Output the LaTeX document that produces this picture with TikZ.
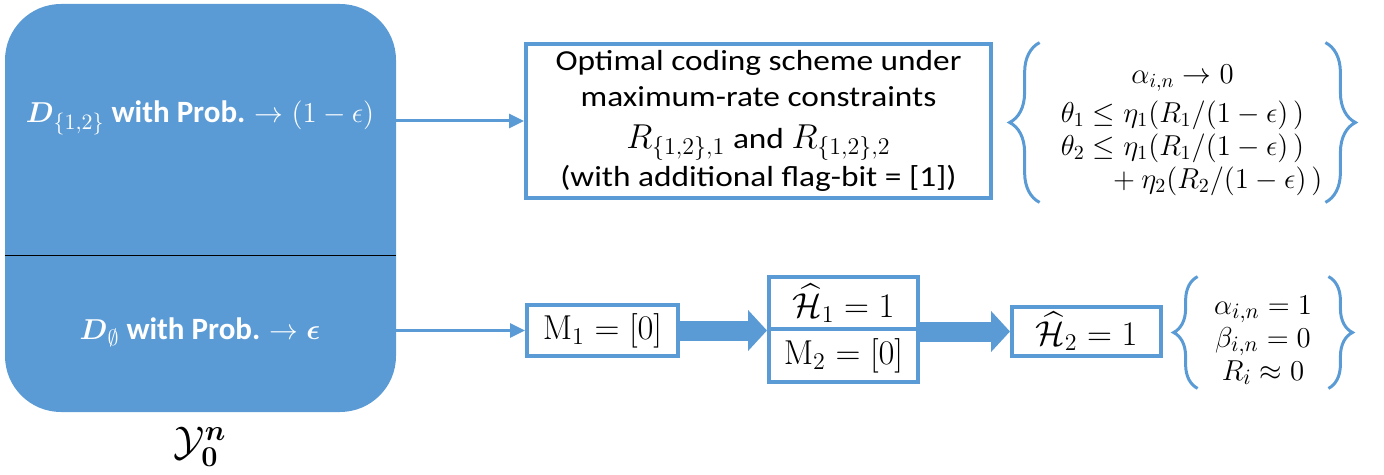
\documentclass[tikz,border=0pt]{standalone}
\usepackage{amsmath,amssymb}
\usepackage[no-math]{fontspec}
\setmainfont{Carlito}
\newfontfamily\widefont{Carlito}[FakeStretch=1.15]
\newcommand{\rmath}[1]{{\fontsize{16.5}{18}\selectfont$#1$}}
\usetikzlibrary{arrows.meta,decorations.pathreplacing}
\definecolor{boxblue}{HTML}{5B9BD5}

\begin{document}
\begin{tikzpicture}[x=0.5pt, y=-0.5pt,
    box/.style={draw=boxblue, line width=2pt, fill=white, inner sep=0pt},
    srctext/.style={text=white, font=\fontsize{15.5}{18}\selectfont\bfseries},
    cond/.style={inner sep=0pt, align=center},
    thinarrow/.style={draw=boxblue, line width=1.5pt, -{Triangle[length=7.5pt, width=7pt]}},
    fatarrow/.style={draw=boxblue, line width=10pt, -{Triangle[length=9.5pt, width=20pt]}},
    curly/.style={draw=boxblue, line width=1.5pt, decorate, decoration={brace, amplitude=#1}}]
    \useasboundingbox (0,0) rectangle (1384,475);
    % source block, split in two outcomes
    \node[fill=boxblue, rounded corners=28pt, minimum width=195.5pt, minimum height=204pt, inner sep=0pt] (src) at (200.5,208) {};
    \coordinate (cut) at (0,256);
    \draw[line width=0.5pt] (src.west |- cut) -- (src.east |- cut);
    \node[srctext] (d12) at (200,118) {$\boldsymbol{D}_{\{1,2\}}$ with Prob. $\rightarrow (1-\epsilon)$};
    \node[srctext] (d0) at (200,332) {$\boldsymbol{D}_{\emptyset}$ with Prob. $\rightarrow \boldsymbol{\epsilon}$};
    \node[font=\fontsize{22}{24}\selectfont] (yn) at (200,447) {$\mathcal{Y}_{\mathbf{0}}^{\boldsymbol{n}}$};
    % upper branch
    \node[box, minimum width=232.5pt, minimum height=77pt, align=center, font=\fontsize{14.5}{18}\widefont] (opt) at (758.5,121)
        {Optimal coding scheme under\\ maximum-rate constraints\\[3pt] \rmath{R_{\{1,2\},1}} and \rmath{R_{\{1,2\},2}}\\[1pt] (with additional flag-bit = [1])};
    \draw[thinarrow] (src.east |- opt.west) -- (opt.west);
    \node[cond, minimum width=142.5pt, minimum height=79.5pt, font=\fontsize{14}{16.5}\selectfont] (c1) at (1182.5,122.5)
        {\rule{0pt}{17pt}$\alpha_{i,n} \rightarrow 0$\\[3pt] $\theta_1 \le \eta_1(R_1/(1-\epsilon)\,)$\\ $\theta_2 \le \eta_1(R_1/(1-\epsilon)\,)$\\ \hspace*{32pt}${}+\eta_2(R_2/(1-\epsilon)\,)$};
    \draw[curly=15pt] (c1.south west) -- (c1.north west);
    \draw[curly=15pt] (c1.north east) -- (c1.south east);
    % lower branch
    \node[box, minimum width=75.5pt, minimum height=25.5pt, font=\fontsize{17}{17}\selectfont] (m1) at (602.5,330.5) {$\mathrm{M}_1 = [0]$};
    \node[box, minimum width=74.5pt, minimum height=26pt, font=\fontsize{17}{17}\selectfont] (h1) at (843.5,303) {$\widehat{\mathcal{H}}_1 = 1$};
    \node[box, minimum width=74.5pt, minimum height=26.5pt, font=\fontsize{17}{17}\selectfont] (m2) at (843.5,355.5) {$\mathrm{M}_2 = [0]$};
    \node[box, minimum width=74.5pt, minimum height=24.5pt, font=\fontsize{17}{17}\selectfont] (h2) at (1086.5,331.5) {$\widehat{\mathcal{H}}_2 = 1$};
    \draw[thinarrow] (src.east |- m1.west) -- (m1.west);
    \draw[fatarrow] (m1.east) -- (m1.east -| h1.west);
    \draw[fatarrow] (h2.west -| h1.east) -- (h2.west);
    \node[cond, minimum width=65pt, minimum height=55.5pt, font=\fontsize{15}{16.5}\selectfont] (c2) at (1263,332.5)
        {\rule{0pt}{17pt}$\alpha_{i,n} = 1$\\ $\beta_{i,n} = 0$\\ $R_i \approx 0$};
    \draw[curly=12pt] (c2.south west) -- (c2.north west);
    \draw[curly=12pt] (c2.north east) -- (c2.south east);
\end{tikzpicture}
\end{document}
